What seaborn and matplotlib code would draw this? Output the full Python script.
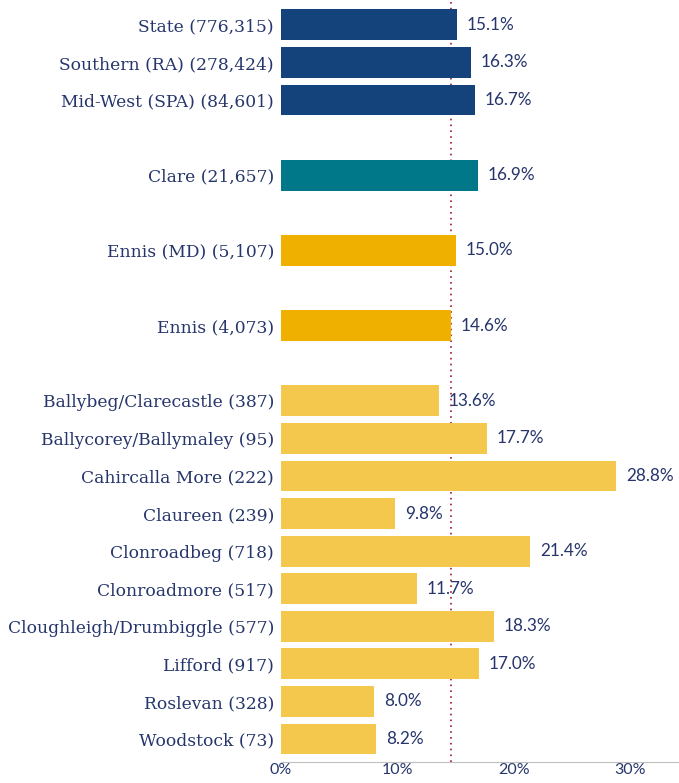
import matplotlib
matplotlib.use('Agg')
import matplotlib.pyplot as plt
import seaborn as sns
import pandas as pd

# Data
labels = ["State (776,315)", "Southern (RA) (278,424)", "Mid-West (SPA) (84,601)",
          "Clare (21,657)", "Ennis (MD) (5,107)", "Ennis (4,073)",
          "Ballybeg/Clarecastle (387)", "Ballycorey/Ballymaley (95)", "Cahircalla More (222)",
          "Claureen (239)", "Clonroadbeg (718)", "Clonroadmore (517)",
          "Cloughleigh/Drumbiggle (577)", "Lifford (917)", "Roslevan (328)", "Woodstock (73)"]
values = [15.1, 16.3, 16.7, 16.9, 15.0, 14.6, 13.6, 17.7, 28.8, 9.8, 21.4, 11.7, 18.3, 17.0, 8.0, 8.2]
groups = ["region"] * 3 + ["county"] + ["district"] * 2 + ["area"] * 10
ref_label = "Ennis (4,073)"
xticks = [0, 10, 20, 30]

palette = {"region": "#14427b", "county": "#00788a", "district": "#f0b000", "area": "#f4c84c"}
text_col = "#26356b"

df = pd.DataFrame({"label": labels, "value": values, "group": groups})

# blank slots between groups
order = labels[:3] + [" "] + labels[3:4] + ["  "] + labels[4:5] + ["   "] + labels[5:6] + ["    "] + labels[6:]

sns.set_style("white")
plt.rcParams['font.family'] = ['Lato', 'DejaVu Sans']

fig = plt.figure(figsize=(6.79, 7.83), dpi=100)
ax = fig.add_axes([281 / 679, 21 / 783, 1 - 281 / 679, 1 - 21 / 783])

sns.barplot(data=df, y="label", x="value", hue="group", order=order, palette=palette,
            orient="h", width=0.82, legend=False, saturation=1, linewidth=0, ax=ax)

for c in ax.containers:
    ax.bar_label(c, fmt="%.1f%%", padding=7, fontsize=12.3, color=text_col)

ref_val = df.loc[df.label == ref_label, "value"].iloc[0]
ax.axvline(ref_val, color="#9b1b30", linestyle=(0, (1, 2.5)), lw=1.2, zorder=0)

ax.set_xlim(0, 34.2)
ax.set_ylim(19.61, -0.66)
ax.set_xticks(xticks)
ax.set_xticklabels([f"{t}%" for t in xticks], fontsize=11.5, color=text_col)
ax.set_ylabel("")
ax.set_xlabel("")
for t in ax.get_yticklabels():
    t.set_family(["DejaVu Serif"])
    t.set_fontsize(12.3)
    t.set_color(text_col)
ax.tick_params(axis="both", length=0)
ax.tick_params(axis="y", pad=5)
ax.tick_params(axis="x", pad=1)
sns.despine(ax=ax, left=True)
ax.spines["bottom"].set_color("#c0c0c0")

fig.savefig("out.png", dpi=100)
